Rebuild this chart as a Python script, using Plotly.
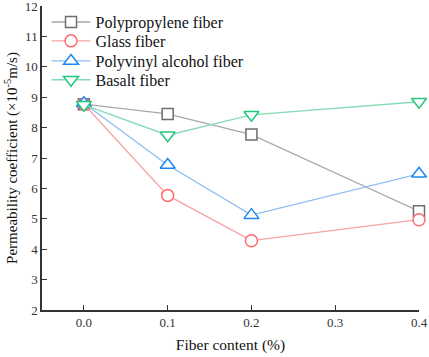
import plotly.graph_objects as go

x_vals = [0.0, 0.1, 0.2, 0.4]
pp = [8.77, 8.45, 7.77, 5.25]
glass = [8.77, 5.77, 4.28, 4.97]
pva = [8.8, 6.77, 5.12, 6.48]
basalt = [8.75, 7.75, 8.42, 8.85]
names = ["Polypropylene fiber", "Glass fiber", "Polyvinyl alcohol fiber", "Basalt fiber"]
x_ticks = [0.0, 0.1, 0.2, 0.3, 0.4]
x_ticklabels = ["0.0", "0.1", "0.2", "0.3", "0.4"]
y_ticks = [2, 3, 4, 5, 6, 7, 8, 9, 10, 11, 12]

series = [pp, glass, pva, basalt]
symbols = ["square", "circle", "triangle-up", "triangle-down"]
mcolors = ["#6e6e6e", "#ff6b6b", "#1e88f0", "#22c87e"]
lcolors = ["#a8a8a8", "#f7a3a3", "#8dbdf0", "#86dcb4"]
sizes = [11, 12, 13, 13]
legend_ids = ["legend", "legend2", "legend3", "legend4"]
legend_y = [0.947, 0.885, 0.819, 0.757]

font_fam = "'Liberation Serif', 'Times New Roman', Times, serif"

fig = go.Figure()
for s, n, sym, mc, lc, sz, lg in zip(series, names, symbols, mcolors, lcolors, sizes, legend_ids):
    fig.add_trace(go.Scatter(
        x=x_vals, y=s, name=n, mode="lines+markers",
        line=dict(color=lc, width=1.3),
        marker=dict(symbol=sym, size=sz, color="white", line=dict(color=mc, width=1.5)),
        cliponaxis=False, legend=lg,
    ))

legend_layout = {}
for lg, ly in zip(legend_ids, legend_y):
    legend_layout[lg] = dict(x=0.012, y=ly, xanchor="left", yanchor="middle",
                             bgcolor="rgba(0,0,0,0)", itemwidth=39,
                             font=dict(size=16, family=font_fam, color="#111"))

fig.update_layout(
    width=429, height=357,
    margin=dict(l=42, r=10, t=6, b=47, autoexpand=False),
    plot_bgcolor="white", paper_bgcolor="white",
    font=dict(family=font_fam, color="#222", size=13),
    showlegend=True,
    xaxis=dict(range=[-0.05, 0.4], tickvals=x_ticks, ticktext=x_ticklabels,
               showgrid=False, zeroline=False, showline=True, linecolor="#333", linewidth=1.5,
               ticks="inside", ticklen=5, tickcolor="#333", tickwidth=1.3,
               tickfont=dict(size=13, color="#333", family=font_fam), automargin=False, ticklabeloverflow="allow",
               title=dict(text="Fiber content (%)", font=dict(size=15.5, color="#111", family=font_fam), standoff=10)),
    yaxis=dict(range=[2, 12], tickvals=y_ticks,
               showgrid=False, zeroline=False, showline=True, linecolor="#333", linewidth=1.5,
               ticks="inside", ticklen=5, tickcolor="#333", tickwidth=1.3,
               tickfont=dict(size=13, color="#333", family=font_fam), automargin=False, ticklabeloverflow="allow",
               title=dict(text="Permeability coefficient (×10<sup>-5</sup>m/s)",
                          font=dict(size=15, color="#111", family=font_fam), standoff=3)),
    **legend_layout,
)
fig.write_html("out.html", config={"displayModeBar": False},
               post_script="document.body.style.margin='0';document.body.style.overflow='hidden';")
